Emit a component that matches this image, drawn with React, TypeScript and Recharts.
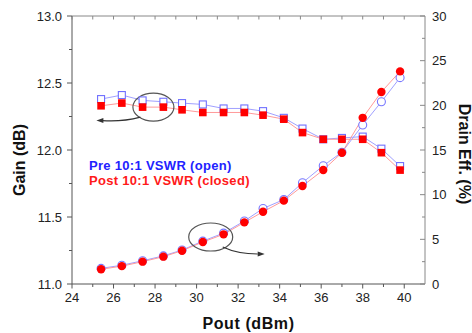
import React from "react";
import {
  ComposedChart,
  Line,
  XAxis,
  YAxis,
  ReferenceDot,
  Legend,
} from "recharts";

// ---- data ----
const pout = [25.4, 26.4, 27.4, 28.4, 29.3, 30.3, 31.3, 32.3, 33.2, 34.2, 35.1, 36.1, 37.0, 38.0, 38.9, 39.8];
const gainPre = [12.38, 12.41, 12.37, 12.36, 12.35, 12.34, 12.31, 12.31, 12.29, 12.24, 12.16, 12.08, 12.09, 12.1, 12.01, 11.88];
const gainPost = [12.33, 12.35, 12.32, 12.32, 12.3, 12.28, 12.28, 12.28, 12.26, 12.23, 12.13, 12.08, 12.08, 12.08, 11.98, 11.85];
const effPre = [1.75, 2.1, 2.6, 3.15, 3.8, 4.8, 5.7, 7.05, 8.45, 9.45, 11.34, 13.24, 14.75, 17.8, 20.4, 23.1];
const effPost = [1.65, 2.0, 2.5, 3.06, 3.73, 4.7, 5.56, 6.9, 8.09, 9.33, 10.97, 12.76, 14.7, 18.6, 21.5, 23.8];

const xTicks = [24, 25, 26, 27, 28, 29, 30, 31, 32, 33, 34, 35, 36, 37, 38, 39, 40];
const gainTicks = [11, 11.25, 11.5, 11.75, 12, 12.25, 12.5, 12.75, 13];
const effTicks = [0, 2.5, 5, 7.5, 10, 12.5, 15, 17.5, 20, 22.5, 25, 27.5, 30];

const legendItems = ["Pre 10:1 VSWR (open)", "Post 10:1 VSWR (closed)"];

const rows = pout.map((p, i) => ({
  pout: p,
  gainPre: gainPre[i],
  gainPost: gainPost[i],
  effPre: effPre[i],
  effPost: effPost[i],
}));

const FONT = "'Liberation Sans', Arial, sans-serif";
const AXIS_DARK = "#555";
const AXIS_LIGHT = "#888";
const TEXT = "#222";

const BottomTick = (props: any) => {
  const { x, y, payload } = props;
  const major = payload.value % 2 === 0;
  return (
    <g>
      <line x1={x} x2={x} y1={y} y2={y + (major ? 4.5 : 3)} stroke={AXIS_DARK} strokeWidth={1} />
      {major && (
        <text x={x} y={y + 17.5} textAnchor="middle" fontSize={13} fontFamily={FONT} fill={TEXT}>
          {payload.value}
        </text>
      )}
    </g>
  );
};

const TopTick = (props: any) => {
  const { x, y } = props;
  return <line x1={x} x2={x} y1={y} y2={y + 3.5} stroke={AXIS_LIGHT} strokeWidth={1} />;
};

const LeftTick = (props: any) => {
  const { x, y, payload } = props;
  const major = Math.abs(payload.value * 2 - Math.round(payload.value * 2)) < 1e-6;
  return (
    <g>
      <line x1={x - (major ? 5 : 3)} x2={x} y1={y} y2={y} stroke={AXIS_DARK} strokeWidth={1} />
      {major && (
        <text x={x - 10} y={y + 4.5} textAnchor="end" fontSize={13} fontFamily={FONT} fill={TEXT}>
          {payload.value.toFixed(1)}
        </text>
      )}
    </g>
  );
};

const RightTick = (props: any) => {
  const { x, y, payload } = props;
  const major = payload.value % 5 === 0;
  return (
    <g>
      <line x1={x - (major ? 5 : 3)} x2={x} y1={y} y2={y} stroke={AXIS_LIGHT} strokeWidth={1} />
      {major && (
        <text x={x + 7} y={y + 4.5} textAnchor="start" fontSize={13} fontFamily={FONT} fill={TEXT}>
          {payload.value}
        </text>
      )}
    </g>
  );
};

const blueSquare = (p: any) => (
  <rect key={`bs${p.index}`} x={p.cx - 3.5} y={p.cy - 3.5} width={7} height={7} fill="#fff" stroke="#7070ff" strokeWidth={1.1} />
);
const redSquare = (p: any) => (
  <rect key={`rs${p.index}`} x={p.cx - 3.8} y={p.cy - 3.8} width={7.6} height={7.6} fill="#ff0000" />
);
const blueCircle = (p: any) => (
  <circle key={`bc${p.index}`} cx={p.cx} cy={p.cy} r={4} fill="#fff" stroke="#7878ff" strokeWidth={1.1} />
);
const redCircle = (p: any) => (
  <circle key={`rc${p.index}`} cx={p.cx} cy={p.cy} r={4.2} fill="#ff0000" />
);

const GainAnnot = (p: any) => {
  const { cx, cy } = p;
  return (
    <g>
      <ellipse cx={cx} cy={cy} rx={20.5} ry={14} fill="none" stroke="#555" strokeWidth={1.2} />
      <path d={`M ${cx - 13} ${cy + 10} Q ${cx - 32} ${cy + 15} ${cx - 51} ${cy + 13.5}`} fill="none" stroke="#333" strokeWidth={1.2} />
      <polygon points={`${cx - 57},${cy + 13.5} ${cx - 50},${cy + 11} ${cx - 50},${cy + 16}`} fill="#333" />
    </g>
  );
};

const EffAnnot = (p: any) => {
  const { cx, cy } = p;
  return (
    <g>
      <ellipse cx={cx} cy={cy} rx={22} ry={14} fill="none" stroke="#555" strokeWidth={1.2} />
      <path d={`M ${cx + 12} ${cy + 10} Q ${cx + 27} ${cy + 17} ${cx + 47} ${cy + 17}`} fill="none" stroke="#333" strokeWidth={1.2} />
      <polygon points={`${cx + 54},${cy + 17} ${cx + 47},${cy + 14.5} ${cx + 47},${cy + 19.5}`} fill="#333" />
    </g>
  );
};

const LegendContent = () => (
  <div style={{ fontFamily: FONT, fontWeight: "bold", fontSize: 13, lineHeight: "15px", letterSpacing: 0.3, whiteSpace: "nowrap" }}>
    <div style={{ color: "#2222ff" }}>{legendItems[0]}</div>
    <div style={{ color: "#ff1a1a" }}>{legendItems[1]}</div>
  </div>
);

export default function App() {
  return (
    <div style={{ position: "absolute", left: 0, top: 0, width: 472, height: 333, background: "#fff" }}>
      <ComposedChart width={472} height={333} data={rows} margin={{ top: 0, right: 0, bottom: 0, left: 0 }}>
        <XAxis
          xAxisId="bottom"
          dataKey="pout"
          type="number"
          domain={[24, 41]}
          ticks={xTicks}
          allowDataOverflow
          height={49}
          tickSize={0}
          tickMargin={0}
          tickLine={false}
          axisLine={{ stroke: AXIS_DARK }}
          tick={<BottomTick />}
          interval={0}
          label={{
            content: (lp: any) => {
              const vb = lp.viewBox;
              return (
                <text x={vb.x + vb.width / 2} y={vb.y + 45} textAnchor="middle" fontFamily={FONT} fontWeight="bold" fontSize={16} letterSpacing={0.6} fill="#111">
                  Pout (dBm)
                </text>
              );
            },
          }}
        />
        <XAxis
          xAxisId="top"
          orientation="top"
          dataKey="pout"
          type="number"
          domain={[24, 41]}
          ticks={xTicks}
          allowDataOverflow
          height={16}
          tickSize={0}
          tickMargin={0}
          tickLine={false}
          axisLine={{ stroke: AXIS_LIGHT }}
          tick={<TopTick />}
          interval={0}
        />
        <YAxis
          yAxisId="gain"
          orientation="left"
          type="number"
          domain={[11, 13]}
          ticks={gainTicks}
          allowDataOverflow
          width={72}
          tickSize={0}
          tickMargin={0}
          tickLine={false}
          axisLine={{ stroke: AXIS_DARK }}
          tick={<LeftTick />}
          interval={0}
          label={{
            content: (lp: any) => {
              const vb = lp.viewBox;
              const cx = vb.x + 19;
              const cy = vb.y + vb.height / 2 + 10;
              return (
                <text x={cx} y={cy} transform={`rotate(-90 ${cx} ${cy})`} textAnchor="middle" dominantBaseline="central" fontFamily={FONT} fontWeight="bold" fontSize={16} fill="#111">
                  Gain (dB)
                </text>
              );
            },
          }}
        />
        <YAxis
          yAxisId="eff"
          orientation="right"
          type="number"
          domain={[0, 30]}
          ticks={effTicks}
          allowDataOverflow
          width={47}
          tickSize={0}
          tickMargin={0}
          tickLine={false}
          axisLine={{ stroke: AXIS_LIGHT }}
          tick={<RightTick />}
          interval={0}
          label={{
            content: (lp: any) => {
              const vb = lp.viewBox;
              const cx = vb.x + 39;
              const cy = vb.y + vb.height / 2 + 4;
              return (
                <text x={cx} y={cy} transform={`rotate(90 ${cx} ${cy})`} textAnchor="middle" dominantBaseline="central" fontFamily={FONT} fontWeight="bold" fontSize={16} fill="#111">
                  Drain Eff. (%)
                </text>
              );
            },
          }}
        />
        <Legend
          layout="horizontal"
          verticalAlign="middle"
          align="center"
          content={<LegendContent />}
          wrapperStyle={{ position: "absolute", left: 89, top: 158, width: "auto" }}
        />
        <Line xAxisId="bottom" yAxisId="gain" dataKey="gainPre" type="linear" stroke="#a0a0ff" strokeWidth={1} dot={blueSquare} isAnimationActive={false} />
        <Line xAxisId="bottom" yAxisId="gain" dataKey="gainPost" type="linear" stroke="#ff9a9a" strokeWidth={1} dot={redSquare} isAnimationActive={false} />
        <Line xAxisId="bottom" yAxisId="eff" dataKey="effPre" type="linear" stroke="#a0a0ff" strokeWidth={1} dot={blueCircle} isAnimationActive={false} />
        <Line xAxisId="bottom" yAxisId="eff" dataKey="effPost" type="linear" stroke="#ff9a9a" strokeWidth={1} dot={redCircle} isAnimationActive={false} />
        <ReferenceDot xAxisId="bottom" yAxisId="gain" x={27.92} y={12.32} r={0} ifOverflow="visible" shape={GainAnnot} />
        <ReferenceDot xAxisId="bottom" yAxisId="eff" x={30.68} y={5.26} r={0} ifOverflow="visible" shape={EffAnnot} />
      </ComposedChart>
    </div>
  );
}
